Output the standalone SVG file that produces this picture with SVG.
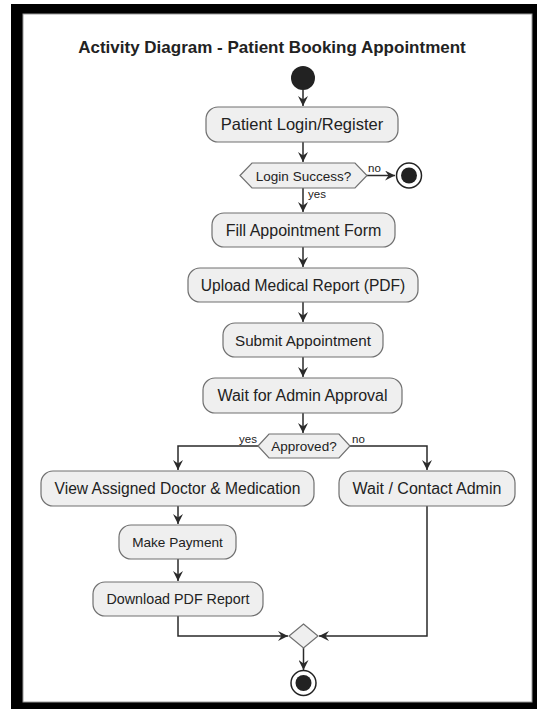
<svg xmlns="http://www.w3.org/2000/svg" width="537" height="709" viewBox="0 0 537 709">
<style>
.box{fill:#efefef;stroke:#707070;stroke-width:1.2}
.t{font-family:"Liberation Sans",Arial,sans-serif;fill:#222;text-anchor:middle}
.lbl{font-family:"Liberation Sans",Arial,sans-serif;fill:#222;font-size:11.5px}
.edge{fill:none;stroke:#2a2a2a;stroke-width:1.5}
.solid{fill:#222}
</style>
<defs>
<marker id="ah" markerUnits="userSpaceOnUse" markerWidth="12" markerHeight="10" refX="10" refY="5" orient="auto">
<path d="M0,0 L10,5 L0,10 L3.5,5 Z" fill="#2a2a2a"/>
</marker>
</defs>
<rect x="11" y="4" width="526" height="705" fill="#000"/>
<rect x="23" y="14" width="509" height="688" fill="#fff" stroke="#9a9a9a" stroke-width="1"/>
<text x="272" y="53" class="t" font-size="17" font-weight="bold" fill="#111">Activity Diagram - Patient Booking Appointment</text>

<g id="connectors">
<path class="edge" d="M303,90 V106" marker-end="url(#ah)"/>
<path class="edge" d="M303,142 V162" marker-end="url(#ah)"/>
<path class="edge" d="M367,175.5 H395" marker-end="url(#ah)"/>
<path class="edge" d="M303,188 V212" marker-end="url(#ah)"/>
<path class="edge" d="M303,247 V267" marker-end="url(#ah)"/>
<path class="edge" d="M303,302 V322" marker-end="url(#ah)"/>
<path class="edge" d="M303,357 V377" marker-end="url(#ah)"/>
<path class="edge" d="M303,413 V433" marker-end="url(#ah)"/>
<path class="edge" d="M258,446 H178 V470" marker-end="url(#ah)"/>
<path class="edge" d="M350,446 H427 V470" marker-end="url(#ah)"/>
<path class="edge" d="M178,506 V524" marker-end="url(#ah)"/>
<path class="edge" d="M178,559 V581" marker-end="url(#ah)"/>
<path class="edge" d="M178,616 V636 H288" marker-end="url(#ah)"/>
<path class="edge" d="M427,506 V636 H319" marker-end="url(#ah)"/>
<path class="edge" d="M303.5,648 V670" marker-end="url(#ah)"/>
<text x="368" y="172" class="lbl">no</text>
<text x="308" y="198" class="lbl">yes</text>
<text x="257" y="443" class="lbl" text-anchor="end">yes</text>
<text x="352" y="443" class="lbl">no</text>
</g>

<g id="start"><circle cx="303" cy="78" r="12" class="solid"/></g>

<g id="login">
<rect class="box" x="206" y="107" width="192" height="35" rx="12"/>
<text x="302" y="130" class="t" font-size="16.5">Patient Login/Register</text>
</g>

<g id="loginSuccess">
<polygon class="box" points="240,175.5 252,163 355,163 367,175.5 355,188 252,188"/>
<text x="303.5" y="180.5" class="t" font-size="13.5">Login Success?</text>
</g>

<g id="endFail">
<circle cx="409" cy="175.5" r="12.5" fill="#fff" stroke="#222" stroke-width="1.5"/>
<circle cx="409" cy="175.5" r="8" class="solid"/>
</g>

<g id="fillForm">
<rect class="box" x="212" y="213" width="183" height="34" rx="12"/>
<text x="303.5" y="235.5" class="t" font-size="16">Fill Appointment Form</text>
</g>

<g id="upload">
<rect class="box" x="188" y="268" width="230" height="34" rx="12"/>
<text x="303" y="290.5" class="t" font-size="15.6">Upload Medical Report (PDF)</text>
</g>

<g id="submit">
<rect class="box" x="223" y="323" width="160" height="34" rx="12"/>
<text x="303" y="345.5" class="t" font-size="15.2">Submit Appointment</text>
</g>

<g id="waitApproval">
<rect class="box" x="203" y="378" width="199" height="35" rx="12"/>
<text x="302.5" y="401" class="t" font-size="16">Wait for Admin Approval</text>
</g>

<g id="approved">
<polygon class="box" points="258,446 269,434 339,434 350,446 339,458 269,458"/>
<text x="304" y="451" class="t" font-size="13.5">Approved?</text>
</g>

<g id="viewDoctor">
<rect class="box" x="41" y="471" width="273" height="35" rx="12"/>
<text x="177.5" y="494" class="t" font-size="15.6">View Assigned Doctor &amp; Medication</text>
</g>

<g id="waitContact">
<rect class="box" x="339" y="471" width="176" height="35" rx="12"/>
<text x="427" y="494" class="t" font-size="16">Wait / Contact Admin</text>
</g>

<g id="payment">
<rect class="box" x="119" y="525" width="117" height="34" rx="12"/>
<text x="177.5" y="547" class="t" font-size="13.6">Make Payment</text>
</g>

<g id="download">
<rect class="box" x="93" y="582" width="170" height="34" rx="12"/>
<text x="178" y="604" class="t" font-size="14.3">Download PDF Report</text>
</g>

<g id="merge">
<polygon class="box" points="303.5,624 318,636 303.5,648 289,636"/>
</g>

<g id="endFinal">
<circle cx="303.5" cy="683" r="12.5" fill="#fff" stroke="#222" stroke-width="1.5"/>
<circle cx="303.5" cy="683" r="8" class="solid"/>
</g>
</svg>
